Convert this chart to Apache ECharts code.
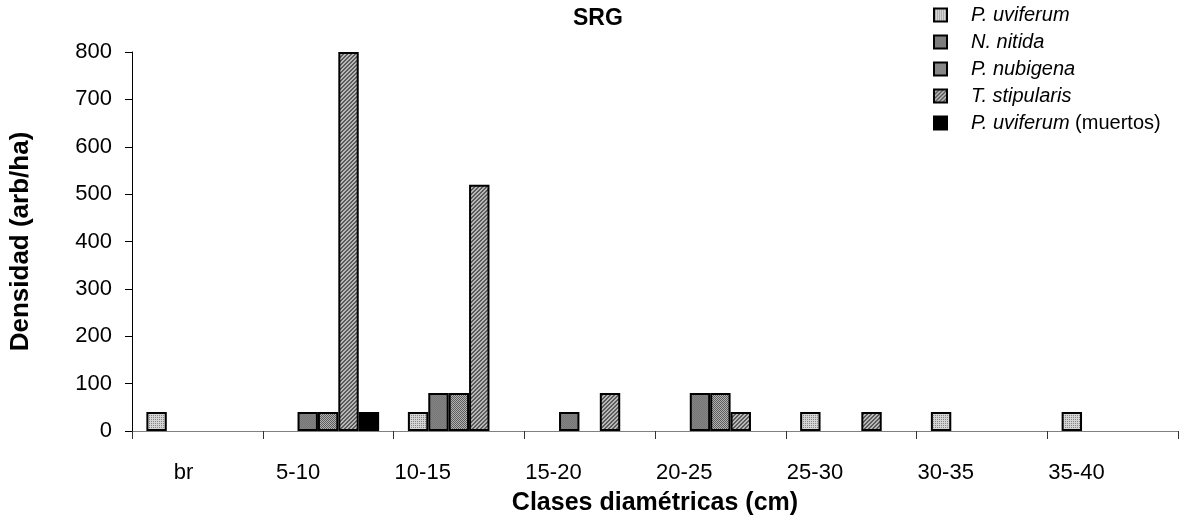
<!DOCTYPE html>
<html>
<head>
<meta charset="utf-8">
<script src="https://cdn.jsdelivr.net/npm/echarts@6/dist/echarts.min.js"></script>
<style>
  html, body { margin: 0; padding: 0; background: #fff; }
  #chart { width: 1182px; height: 529px; }
</style>
</head>
<body>
<div id="chart"></div>
<script>
// Diameter classes (cm)
const categories = ['br', '5-10', '10-15', '15-20', '20-25', '25-30', '30-35', '35-40'];

// Density (trees/ha) per species and class; null = no trees in that class
const pUviferum   = [40, null, 40, null, null, 40, 40, 40];
const nNitida     = [null, 40, 80, 40, 80, null, null, null];
const pNubigena   = [null, 40, 80, null, 80, null, null, null];
const tStipularis = [null, 800, 520, 80, 40, 40, null, null];
const pUvMuertos  = [null, 40, null, null, null, null, null, null];

const yTicks = { min: 0, max: 800, interval: 100 };

// Small repeating fill textures for the bars
function tile(size, bg, fg, test) {
  const c = document.createElement('canvas');
  c.width = c.height = size;
  const ctx = c.getContext('2d');
  ctx.fillStyle = bg;
  ctx.fillRect(0, 0, size, size);
  ctx.fillStyle = fg;
  for (let x = 0; x < size; x++)
    for (let y = 0; y < size; y++)
      if (test(x, y)) ctx.fillRect(x, y, 1, 1);
  return { image: c, repeat: 'repeat' };
}
const fillDots    = tile(2, '#d4d4d4', '#868686', (x, y) => x === 1 && y === 1);
const fillSolid   = tile(2, '#848484', '#767676', (x, y) => (x + y) % 2 === 0);
const fillChecker = tile(2, '#b2b2b2', '#5c5c5c', (x, y) => (x + y) % 2 === 0);
const fillHatch   = tile(4, '#b8b8b8', '#5a5a5a', (x, y) => (x + y) % 4 < 2);

const FONT = '"Liberation Sans", Arial, sans-serif';

function barSeries(name, data, fill) {
  return {
    name: name,
    type: 'bar',
    data: data,
    barGap: '0%',
    barCategoryGap: '22%',
    itemStyle: { color: fill, borderColor: '#000', borderWidth: 2 },
    emphasis: { disabled: true }
  };
}

// Category labels sit to the left of each class centre; the short "br" a little less so
const xAxisData = categories.map(c =>
  c === 'br' ? { value: c, textStyle: { align: 'right', padding: [0, 4, 0, 0] } } : c
);

const chart = echarts.init(document.getElementById('chart'), null, { renderer: 'canvas' });
chart.setOption({
  animation: false,
  backgroundColor: '#fff',
  title: {
    text: 'SRG',
    left: 573,
    top: 0,
    padding: [7, 0, 0, 0],
    textStyle: { fontFamily: FONT, fontSize: 23, fontWeight: 'bold', color: '#000' }
  },
  legend: {
    orient: 'vertical',
    left: 933,
    top: 4,
    padding: 0,
    itemWidth: 13,
    itemHeight: 13,
    itemGap: 5,
    icon: 'rect',
    data: ['P. uviferum', 'N. nitida', 'P. nubigena', 'T. stipularis', 'P. uviferum (muertos)'],
    formatter: function (name) {
      if (name === 'P. uviferum (muertos)') return '{i|P. uviferum} {n|(muertos)}';
      return '{i|' + name + '}';
    },
    textStyle: {
      fontFamily: FONT,
      fontSize: 20,
      color: '#000',
      lineHeight: 22,
      padding: [0, 0, 0, 19],
      rich: {
        i: { fontFamily: FONT, fontSize: 20, fontStyle: 'italic', color: '#000' },
        n: { fontFamily: FONT, fontSize: 20, color: '#000' }
      }
    }
  },
  grid: { left: 130, right: 4, top: 52, bottom: 98, containLabel: false },
  xAxis: {
    type: 'category',
    data: xAxisData,
    name: 'Clases diamétricas (cm)',
    nameLocation: 'middle',
    nameGap: 60,
    nameTextStyle: { fontFamily: FONT, fontSize: 25, fontWeight: 'bold', color: '#000' },
    axisLine: { lineStyle: { color: '#808080', width: 1 } },
    axisTick: { show: true, length: 8, lineStyle: { color: '#333' } },
    axisLabel: {
      fontFamily: FONT, fontSize: 22, color: '#000',
      margin: 31, align: 'right', padding: [0, 8, 0, 0]
    }
  },
  yAxis: {
    type: 'value',
    min: yTicks.min,
    max: yTicks.max,
    interval: yTicks.interval,
    name: 'Densidad (arb/ha)',
    nameLocation: 'middle',
    nameGap: 98,
    nameTextStyle: { fontFamily: FONT, fontSize: 26, fontWeight: 'bold', color: '#000' },
    axisLine: { show: true, lineStyle: { color: '#000', width: 1 } },
    axisTick: { show: true, length: 7, lineStyle: { color: '#000' } },
    axisLabel: { fontFamily: FONT, fontSize: 22, color: '#000', margin: 20 },
    splitLine: { show: false }
  },
  series: [
    barSeries('P. uviferum', pUviferum, fillDots),
    barSeries('N. nitida', nNitida, fillSolid),
    barSeries('P. nubigena', pNubigena, fillChecker),
    barSeries('T. stipularis', tStipularis, fillHatch),
    barSeries('P. uviferum (muertos)', pUvMuertos, '#000')
  ]
});
</script>
</body>
</html>
